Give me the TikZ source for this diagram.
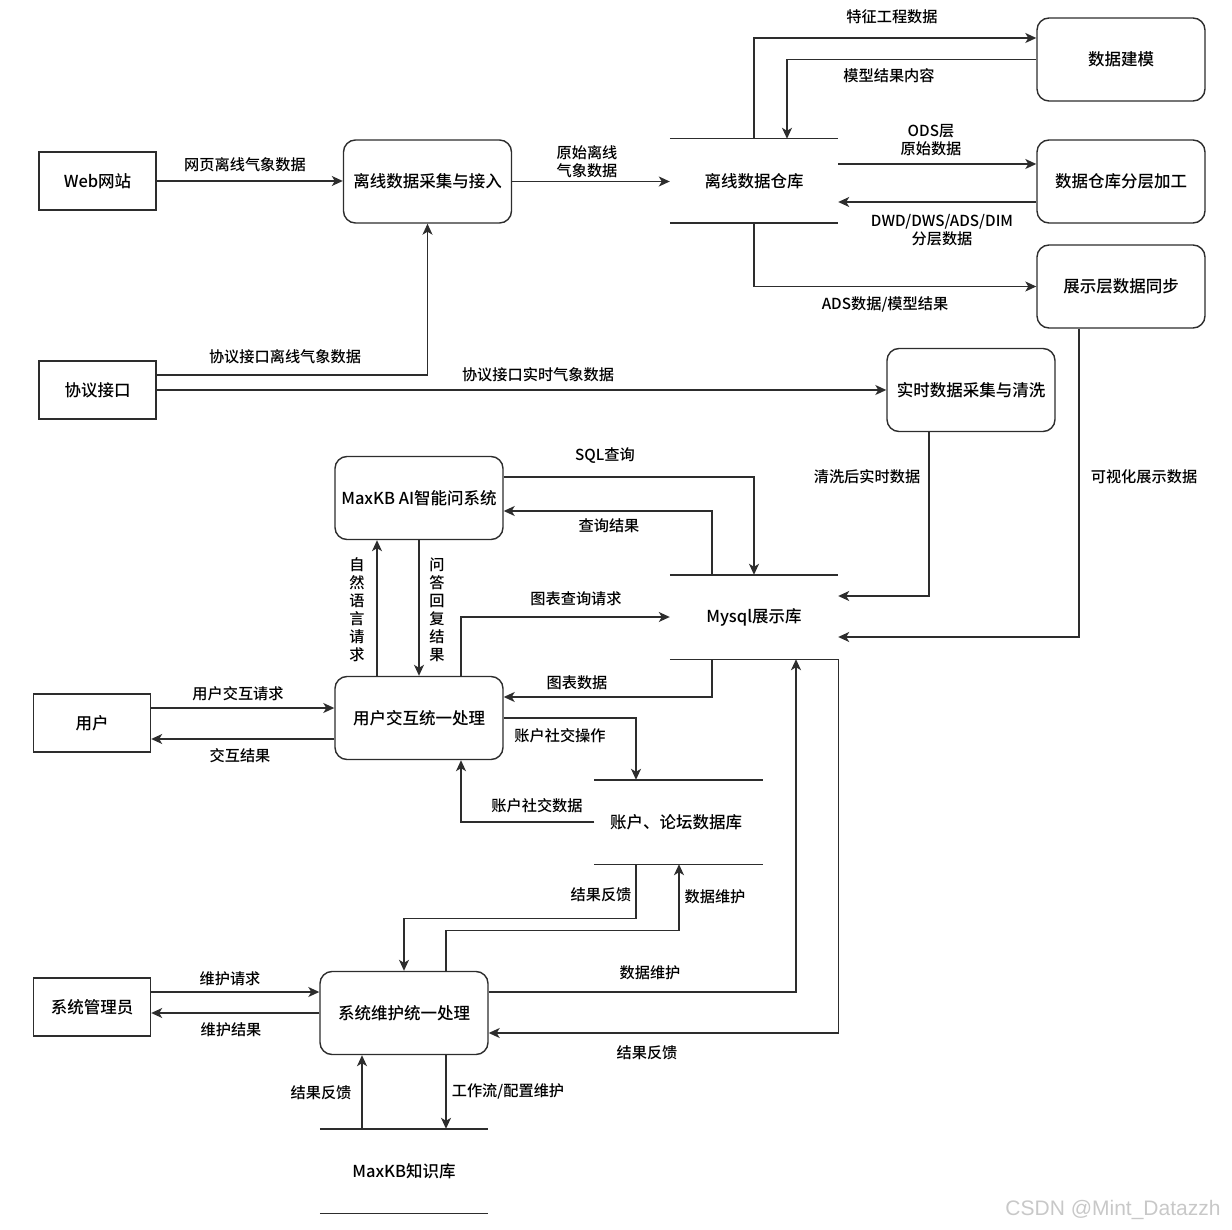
\documentclass[tikz,border=0pt]{standalone}
\usepackage{fontspec}
\setmainfont{Noto Sans CJK SC Medium}
\newfontfamily\wmfont{Liberation Sans}
\usetikzlibrary{arrows.meta}
\definecolor{ln}{RGB}{45,45,45}
\definecolor{wm}{RGB}{200,200,200}
\tikzset{
  ext/.style={draw=ln, line width=1.4pt, minimum width=117pt, minimum height=58pt, inner sep=0pt, font=\fontsize{16.5}{19}\selectfont},
  proc/.style={draw=ln, line width=1.4pt, rounded corners=12pt, minimum width=168pt, minimum height=83pt, inner sep=0pt, font=\fontsize{16.5}{19}\selectfont},
  store/.style={minimum width=168pt, minimum height=84pt, inner sep=0pt, font=\fontsize{16.5}{19}\selectfont},
  sline/.style={draw=ln, line width=1.4pt},
  arr/.style={draw=ln, line width=1.4pt, -{Stealth[length=11pt,width=10pt,inset=3pt]}},
  lbl/.style={inner sep=0pt, align=center, font=\fontsize{15.2}{18}\selectfont}
}
\begin{document}
\begin{tikzpicture}[x=1pt,y=-1pt]
\useasboundingbox (0,0) rectangle (1232,1230);
% nodes
\node[ext] (web) at (97.5,181) {Web网站};
\node[proc] (off) at (427.5,181.5) {离线数据采集与接入};
\node[ext] (xy) at (97.5,390) {协议接口};
\node[store] (wh) at (754,181) {离线数据仓库};
\node[proc] (model) at (1121,59.5) {数据建模};
\node[proc] (layer) at (1121,181.5) {数据仓库分层加工};
\node[proc] (sync) at (1121,286.5) {展示层数据同步};
\node[proc] (rt) at (971,390) {实时数据采集与清洗};
\node[proc] (ai) at (419,498) {MaxKB AI智能问系统};
\node[store] (mysql) at (754,617) {Mysql展示库};
\node[proc] (ui) at (419,718) {用户交互统一处理};
\node[ext] (user) at (92,723) {用户};
\node[store] (acc) at (678.5,822) {\hspace*{-5pt}账户、论坛数据库};
\node[ext] (admin) at (92,1007) {系统管理员};
\node[proc] (sys) at (404,1013) {系统维护统一处理};
\node[store] (kb) at (404,1171) {MaxKB知识库};
% datastore lines
\foreach \s in {wh,mysql,acc,kb}{
  \draw[sline] (\s.north west) -- (\s.north east);
  \draw[sline] (\s.south west) -- (\s.south east);
}
% connectors
\draw[arr] (web.east) -- (web.east -| off.west);
\draw[arr] (off.east) -- (off.east -| wh.west);
\draw[arr] ([yshift=15pt]xy.east) -| (off.south);
\draw[arr] (xy.east) -- (xy.east -| rt.west);
\draw[arr] (wh.north) |- ([yshift=21.5pt]model.west);
\draw[arr] (model.west) -| ([xshift=33pt]wh.north);
\draw[arr] ([yshift=17pt]wh.east) -- ([yshift=17pt]wh.east -| layer.west);
\draw[arr] ([yshift=-21pt]wh.east -| layer.west) -- ([yshift=-21pt]wh.east);
\draw[arr] (wh.south) |- (sync.west);
\draw[arr] ([xshift=-42pt]sync.south) |- ([yshift=-20pt]mysql.east);
\draw[arr] ([xshift=-42pt]rt.south) |- ([yshift=21pt]mysql.east);
\draw[arr] ([yshift=21pt]ai.east) -| (mysql.north);
\draw[arr] ([xshift=-42pt]mysql.north) |- ([yshift=-13pt]ai.east);
\draw[arr] ([xshift=-42pt]ui.north) -- ([xshift=-42pt]ai.south);
\draw[arr] (ai.south) -- (ui.north);
\draw[arr] ([xshift=42pt]ui.north) |- (mysql.west);
\draw[arr] ([xshift=-42pt]mysql.south) |- ([yshift=21pt]ui.east);
\draw[arr] ([yshift=15pt]user.east) -- ([yshift=15pt]user.east -| ui.west);
\draw[arr] ([yshift=-16pt]user.east -| ui.west) -- ([yshift=-16pt]user.east);
\draw[arr] (ui.east) -| ([xshift=-42.5pt]acc.north);
\draw[arr] (acc.west) -| ([xshift=42pt]ui.south);
\draw[arr] ([xshift=-42.5pt]acc.south) -- ++(0,54) -| (sys.north);
\draw[arr] ([xshift=42pt]sys.north) |- ([xshift=0.5pt,yshift=-66pt]acc.south) -- ([xshift=0.5pt]acc.south);
\draw[arr] ([yshift=21pt]sys.east) -| ([xshift=42pt]mysql.south);
\draw[arr] (mysql.south east) |- ([yshift=-20pt]sys.east);
\draw[arr] ([yshift=15pt]admin.east) -- ([yshift=15pt]admin.east -| sys.west);
\draw[arr] ([yshift=-6pt]admin.east -| sys.west) -- ([yshift=-6pt]admin.east);
\draw[arr] ([xshift=-42pt]kb.north) -- ([xshift=-42pt]sys.south);
\draw[arr] ([xshift=42pt]sys.south) -- ([xshift=42pt]kb.north);
% labels
\node[lbl] (t1) at (245,165) {网页离线气象数据};
\node[lbl] (t2) at (587,162) {原始离线\\气象数据};
\node[lbl] (t3) at (285,357) {协议接口离线气象数据};
\node[lbl] (t4) at (538,375) {协议接口实时气象数据};
\node[lbl] (t5) at (892,17) {特征工程数据};
\node[lbl] (t6) at (889,76) {模型结果内容};
\node[lbl] (t7) at (931,140) {ODS层\\原始数据};
\node[lbl] (t8) at (942,230) {DWD/DWS/ADS/DIM\\分层数据};
\node[lbl] (t9) at (885,304) {ADS数据/模型结果};
\node[lbl] (t10) at (1144,477) {可视化展示数据};
\node[lbl] (t11) at (867,477) {清洗后实时数据};
\node[lbl] (t12) at (605,456) {SQL查询};
\node[lbl] (t13) at (609,526) {查询结果};
\node[lbl] (t14) at (357,610) {自\\然\\语\\言\\请\\求};
\node[lbl] (t15) at (437,610) {问\\答\\回\\复\\结\\果};
\node[lbl] (t16) at (576,599) {图表查询请求};
\node[lbl] (t17) at (577,683) {图表数据};
\node[lbl] (t18) at (238,694) {用户交互请求};
\node[lbl] (t19) at (240,756) {交互结果};
\node[lbl] (t20) at (560,736) {账户社交操作};
\node[lbl] (t21) at (537,806) {账户社交数据};
\node[lbl] (t22) at (601,895) {结果反馈};
\node[lbl] (t23) at (715,897) {数据维护};
\node[lbl] (t24) at (650,973) {数据维护};
\node[lbl] (t25) at (647,1053) {结果反馈};
\node[lbl] (t26) at (230,979) {维护请求};
\node[lbl] (t27) at (231,1030) {维护结果};
\node[lbl] (t28) at (321,1093) {结果反馈};
\node[lbl] (t29) at (508,1091) {工作流/配置维护};
\node[inner sep=0pt, text=wm, font=\wmfont\fontsize{21}{24}\selectfont] (wmk) at (1113,1210) {CSDN @Mint\_Datazzh};
\end{tikzpicture}
\end{document}
